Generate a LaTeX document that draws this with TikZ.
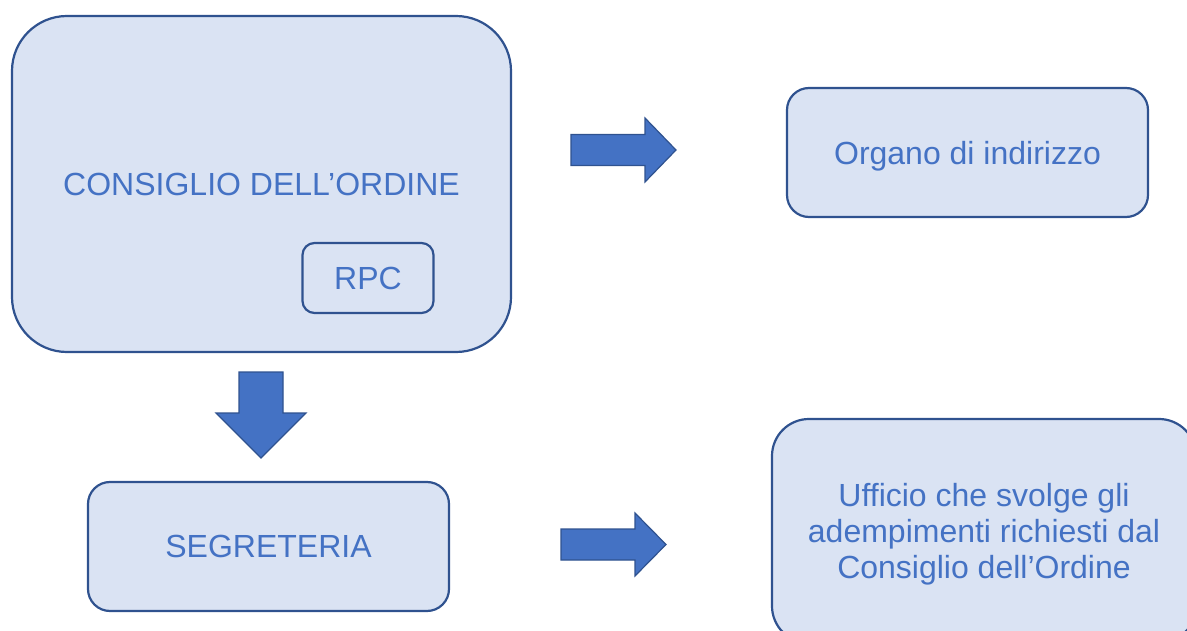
\documentclass[tikz,border=0pt]{standalone}
\usepackage{fontspec}
\setmainfont{Liberation Sans}
\definecolor{boxfill}{HTML}{DAE3F3}
\definecolor{boxline}{HTML}{2F528F}
\definecolor{arrowfill}{HTML}{4472C4}
\definecolor{labeltext}{HTML}{4472C4}
\begin{document}
\begin{tikzpicture}[x=1pt,y=-1pt]
	\tikzstyle{unit}=[draw=boxline,line width=2.2pt,fill=boxfill,text=labeltext,font=\fontsize{32}{36}\selectfont,align=center,inner sep=0pt,text depth=0pt]
	\tikzstyle{blockarrow}=[draw=boxline,line width=1.2pt,fill=arrowfill,line join=miter]
	\useasboundingbox (0,0) rectangle (1187,631);
	\clip (0,0) rectangle (1187,631);
	\begin{scope}
		\node [unit,minimum width=499pt,minimum height=336pt,rounded corners=55pt] (consiglio) at (261.5,184) {CONSIGLIO DELL’ORDINE};
		\node [unit,minimum width=131pt,minimum height=70pt,rounded corners=12pt] (rpc) at (368,278) {RPC};
		\node [unit,minimum width=361pt,minimum height=129pt,rounded corners=22pt] (organo) at (967.5,152.5) {Organo di indirizzo};
		\node [unit,minimum width=361pt,minimum height=129pt,rounded corners=22pt] (segreteria) at (268.5,546.5) {SEGRETERIA};
		\node [unit,minimum width=424pt,minimum height=224pt,rounded corners=37pt] (ufficio) at (984,531) {Ufficio che svolge gli\\adempimenti richiesti dal\\Consiglio dell’Ordine};
		% block arrows
		\path[blockarrow] (571,134.5) -- (645,134.5) -- (645,118) -- (676,150) -- (645,182) -- (645,165.5) -- (571,165.5) -- cycle;
		\path[blockarrow] (239,372) -- (283,372) -- (283,413) -- (306,413) -- (261,458) -- (216,413) -- (239,413) -- cycle;
		\path[blockarrow] (561,529) -- (635,529) -- (635,513) -- (666,544.5) -- (635,576) -- (635,560) -- (561,560) -- cycle;
	\end{scope}
\end{tikzpicture}
\end{document}
